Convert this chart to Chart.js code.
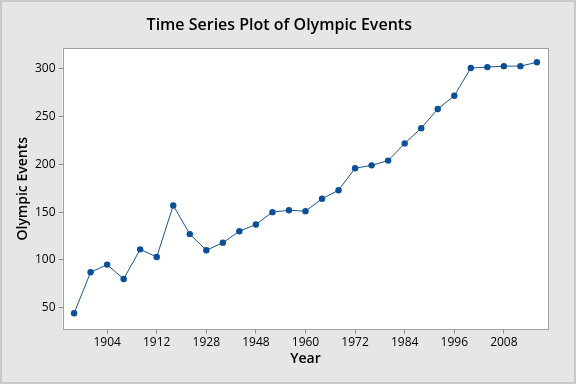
<!DOCTYPE html>
<html>
<head>
<meta charset="utf-8">
<script src="https://cdn.jsdelivr.net/npm/chart.js@4"></script>
<style>
  html, body { margin: 0; padding: 0; background: #e6e6e6; }
  #wrap { width: 576px; height: 384px; }
</style>
</head>
<body>
<div id="wrap"><canvas id="tsChart" width="576" height="384"></canvas></div>
<script>
// Olympic games years and number of events
const years = [1896, 1900, 1904, 1906, 1908, 1912, 1920, 1924, 1928, 1932, 1936, 1948, 1952, 1956, 1960,
               1964, 1968, 1972, 1976, 1980, 1984, 1988, 1992, 1996, 2000, 2004, 2008, 2012, 2016];
const events = [44, 87, 95, 80, 111, 103, 157, 127, 110, 118, 130, 137, 150, 152, 151,
                164, 173, 196, 199, 204, 222, 238, 258, 272, 301, 302, 303, 303, 307];
// x axis labels sit on every 3rd observation
const xTickIndex = [2, 5, 8, 11, 14, 17, 20, 23, 26];
const yTicks = [50, 100, 150, 200, 250, 300];

const points = events.map((v, i) => ({x: i, y: v}));

// grey frame + white plot area + border, like Minitab
const framePlugin = {
    id: 'frame',
    beforeDraw(chart) {
        const ctx = chart.ctx;
        const a = chart.chartArea;
        ctx.save();
        ctx.fillStyle = '#e6e6e6';
        ctx.fillRect(0, 0, chart.width, chart.height);
        ctx.strokeStyle = '#c8c8c8';
        ctx.lineWidth = 2;
        ctx.strokeRect(1, 1, chart.width - 2, chart.height - 2);
        ctx.fillStyle = '#ffffff';
        ctx.fillRect(a.left, a.top, a.right - a.left, a.bottom - a.top);
        ctx.restore();
    },
    afterDraw(chart) {
        const ctx = chart.ctx;
        const a = chart.chartArea;
        ctx.save();
        ctx.strokeStyle = '#a0a0a0';
        ctx.lineWidth = 1;
        ctx.strokeRect(Math.round(a.left) + 0.5, Math.round(a.top) + 0.5,
                       Math.round(a.right - a.left) - 1, Math.round(a.bottom - a.top) - 1);
        ctx.restore();
    }
};

const fontFam = "'Open Sans', 'Noto Sans', sans-serif";

new Chart(document.getElementById('tsChart'), {
    type: 'line',
    data: {
        datasets: [{
            data: points,
            borderColor: '#1c5590',
            borderWidth: 1,
            pointRadius: 3.2,
            pointBackgroundColor: '#0b4f96',
            pointBorderColor: '#0b4f96',
            pointBorderWidth: 0,
            tension: 0
        }]
    },
    options: {
        responsive: false,
        animation: false,
        layout: {
            padding: {left: 10, right: 27.5, top: 0, bottom: 10}
        },
        plugins: {
            legend: {display: false},
            tooltip: {enabled: false},
            title: {
                display: true,
                text: 'Time Series Plot of Olympic Events',
                color: '#000',
                font: {family: fontFam, size: 16, weight: '600', lineHeight: 1.2},
                padding: {top: 16, bottom: 12.8}
            }
        },
        scales: {
            x: {
                type: 'linear',
                min: -0.7,
                max: 28.7,
                afterBuildTicks: (s) => { s.ticks = xTickIndex.map(v => ({value: v})); },
                afterFit: (s) => { s.height = 44.5; },
                grid: {drawOnChartArea: false, drawTicks: true, tickLength: 4, color: '#8c8c8c'},
                border: {display: false},
                ticks: {
                    color: '#000',
                    padding: 2,
                    maxRotation: 0,
                    autoSkip: false,
                    font: {family: fontFam, size: 12},
                    callback: (v) => years[v]
                },
                title: {
                    display: true,
                    text: 'Year',
                    color: '#000',
                    font: {family: fontFam, size: 14, weight: '600', lineHeight: 1.2},
                    padding: {top: 0, bottom: 6.6}
                }
            },
            y: {
                min: 27,
                max: 322,
                afterBuildTicks: (s) => { s.ticks = yTicks.map(v => ({value: v})); },
                afterFit: (s) => { s.width = 52.5; },
                grid: {drawOnChartArea: false, drawTicks: true, tickLength: 4, color: '#8c8c8c'},
                border: {display: false},
                ticks: {
                    color: '#000',
                    padding: 3,
                    font: {family: fontFam, size: 12}
                },
                title: {
                    display: true,
                    text: 'Olympic Events',
                    color: '#000',
                    font: {family: fontFam, size: 14, weight: '600', lineHeight: 1.2},
                    padding: {top: 5, bottom: 0}
                }
            }
        }
    },
    plugins: [framePlugin]
});
</script>
</body>
</html>
